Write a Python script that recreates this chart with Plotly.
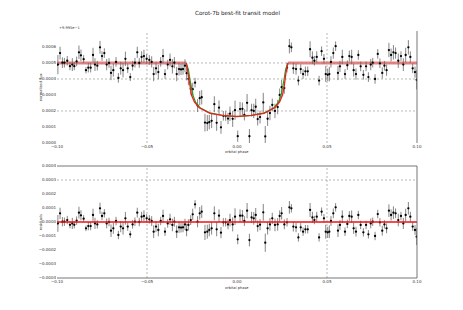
import numpy as np
import plotly.graph_objects as go

# ---------------- data (flux values in units of 1e-4, offset so baseline = 5) -------------
phase_a = [-0.0995, -0.0983, -0.0970, -0.0959, -0.0943, -0.0928, -0.0915, -0.0904, -0.0891, -0.0878,
           -0.0867, -0.0852, -0.0839, -0.0826, -0.0813, -0.0800, -0.0789, -0.0776, -0.0761, -0.0750,
           -0.0737, -0.0724, -0.0711, -0.0700, -0.0687, -0.0672, -0.0659, -0.0646, -0.0633, -0.0620,
           -0.0607, -0.0593, -0.0580, -0.0567, -0.0554, -0.0543, -0.0530, -0.0517, -0.0502, -0.0487,
           -0.0474, -0.0463, -0.0450, -0.0437, -0.0424, -0.0411, -0.0400, -0.0385, -0.0372, -0.0359,
           -0.0348]
resid_a = [-0.10, 0.62, 0.02, 0.02, 0.14, -0.20, -0.10, -0.20, 0.10, 0.67,
           0.48, 0.24, -0.45, -0.29, -0.29, 0.50, -0.10, -0.17, 0.98, 0.43,
           0.62, -0.10, 0.00, -0.62, -0.45, 0.07, -0.93, -0.33, -0.45, 0.26,
           -0.33, -0.88, -0.17, 0.02, 0.67, 0.00, 0.38, 0.43, 0.26, 0.19,
           0.07, -0.69, -0.33, -0.57, 0.07, 0.43, -0.69, -0.10, 0.19, -0.21,
           0.02]
err_a = [0.6, 0.4, 0.33, 0.3, 0.3, 0.25, 0.4, 0.25, 0.3, 0.42,
         0.36, 0.25, 0.2, 0.3, 0.3, 0.45, 0.4, 0.3, 0.4, 0.3,
         0.3, 0.35, 0.3, 0.45, 0.4, 0.3, 0.3, 0.4, 0.45, 0.45,
         0.3, 0.25, 0.3, 0.3, 0.35, 0.3, 0.35, 0.4, 0.3, 0.3,
         0.35, 0.45, 0.4, 0.45, 0.3, 0.45, 0.3, 0.3, 0.4, 0.45,
         0.35]

phase_b = [-0.0335, -0.0322, -0.0311, -0.0300, -0.0289, -0.0280, -0.0270, -0.0257, -0.0246, -0.0233,
           -0.0219, -0.0207, -0.0196, -0.0178, -0.0165, -0.0154, -0.0141, -0.0126, -0.0113, -0.0100,
           -0.0089, -0.0076, -0.0063, -0.0050, -0.0039, -0.0024, -0.0011, 0.0004, 0.0017, 0.0030,
           0.0041, 0.0056, 0.0069, 0.0081, 0.0093, 0.0104, 0.0115, 0.0128, 0.0146, 0.0157,
           0.0170, 0.0183, 0.0196, 0.0211, 0.0226, 0.0237, 0.0248, 0.0263, 0.0278, 0.0291,
           0.0302, 0.0313]
resid_b = [-0.69, -0.38, -0.40, -0.38, -0.17, -0.57, -0.21, 0.14, 0.55, 1.26,
           0.02, 0.62, 0.74, -0.74, -0.69, -0.57, -0.45, 0.62, -0.52, 0.45,
           -0.76, -0.02, -0.02, -0.17, 0.14, -0.17, 0.38, -1.24, 0.45, 0.45,
           0.07, 0.81, -1.29, 0.33, 0.26, 0.50, -0.29, -0.19, 0.69, -1.48,
           -0.45, -0.17, 0.26, -0.21, -0.17, 0.43, 0.62, -0.17, -0.02, 1.05,
           0.98, -0.33]
err_b = [0.45, 0.4, 0.35, 0.35, 0.4, 0.45, 0.4, 0.35, 0.4, 0.3,
         0.4, 0.45, 0.45, 0.55, 0.5, 0.45, 0.45, 0.5, 0.5, 0.45,
         0.4, 0.3, 0.3, 0.35, 0.45, 0.5, 0.6, 0.35, 0.45, 0.4,
         0.35, 0.55, 0.45, 0.4, 0.45, 0.5, 0.4, 0.4, 0.6, 0.65,
         0.45, 0.45, 0.4, 0.45, 0.45, 0.4, 0.45, 0.35, 0.3, 0.45,
         0.3, 0.35]

phase_c = [0.0328, 0.0341, 0.0354, 0.0367, 0.0380, 0.0393, 0.0406, 0.0419, 0.0430, 0.0443,
           0.0456, 0.0470, 0.0483, 0.0493, 0.0504, 0.0513, 0.0522, 0.0535, 0.0548, 0.0561,
           0.0572, 0.0585, 0.0600, 0.0613, 0.0624, 0.0637, 0.0648, 0.0661, 0.0674, 0.0687,
           0.0702, 0.0717, 0.0730, 0.0743, 0.0754, 0.0767, 0.0782, 0.0794, 0.0807, 0.0819,
           0.0831, 0.0844, 0.0856, 0.0869, 0.0881, 0.0896, 0.0911, 0.0924, 0.0937, 0.0952,
           0.0963, 0.0976, 0.0989, 0.0998]
resid_c = [-0.38, -1.10, -0.38, -0.69, -0.52, -0.52, 0.86, 0.33, 0.14, 0.38,
           -1.10, 0.74, 0.26, -0.69, -0.74, -0.69, 0.07, 0.62, 1.05, -0.62,
           -0.21, 0.38, -0.69, -0.14, 0.43, 0.38, -0.45, -0.69, 0.50, -0.21,
           -0.74, -0.21, -0.88, -0.10, 0.02, -1.00, 0.57, -0.02, -0.62, -0.17,
           -0.45, 0.81, 0.50, 0.67, 0.62, 0.14, 0.43, -0.10, 0.50, 0.98,
           0.38, -0.33, -0.57, -1.05]
err_c = [0.35, 0.3, 0.3, 0.3, 0.3, 0.3, 0.5, 0.4, 0.3, 0.35,
         0.3, 0.3, 0.3, 0.5, 0.4, 0.45, 0.35, 0.35, 0.3, 0.45,
         0.35, 0.45, 0.3, 0.3, 0.35, 0.45, 0.4, 0.35, 0.3, 0.3,
         0.3, 0.3, 0.3, 0.35, 0.3, 0.3, 0.3, 0.3, 0.35, 0.3,
         0.35, 0.45, 0.4, 0.45, 0.35, 0.45, 0.3, 0.4, 0.45, 0.45,
         0.35, 0.3, 0.35, 0.6]

# best-fit model (red) and alternative model (green), units of 1e-4 above 0.9995
model_phase = [-0.1000, -0.0281, -0.0272, -0.0263, -0.0253, -0.0236, -0.0210, -0.0150, -0.0080, 0.0000,
               0.0080, 0.0150, 0.0210, 0.0236, 0.0253, 0.0263, 0.0272, 0.0283, 0.1000]
model_red = [5.0, 5.0, 4.4, 3.6, 3.0, 2.55, 2.2, 1.85, 1.72, 1.66,
             1.72, 1.85, 2.2, 2.55, 3.0, 3.6, 4.4, 5.0, 5.0]
green_phase = [-0.0283, -0.0270, -0.0261, -0.0245, -0.0230, -0.0205, -0.0150, -0.0080, 0.0000,
               0.0080, 0.0150, 0.0205, 0.0230, 0.0245, 0.0261, 0.0270, 0.0283]
model_green = [5.0, 4.6, 3.95, 3.0, 2.55, 2.2, 1.88, 1.72, 1.64,
               1.72, 1.88, 2.2, 2.55, 3.0, 3.95, 4.6, 5.0]

x_ticks = [-0.10, -0.05, 0.00, 0.05, 0.10]
x_ticktext = ["\u22120.10", "\u22120.05", "0.00", "0.05", "0.10"]
top_ticks = [0.0000, 0.0001, 0.0002, 0.0003, 0.0004, 0.0005, 0.0006]
top_ticktext = ["0.0000", "0.0001", "0.0002", "0.0003", "0.0004", "0.0005", "0.0006"]
bot_ticks = [-0.0004, -0.0003, -0.0002, -0.0001, 0.0, 0.0001, 0.0002, 0.0003, 0.0004]
bot_ticktext = ["\u22120.0004", "\u22120.0003", "\u22120.0002", "\u22120.0001", "0.0000",
                "0.0001", "0.0002", "0.0003", "0.0004"]

# ---------------- derived ----------------
phase = np.array(phase_a + phase_b + phase_c)
resid = np.array(resid_a + resid_b + resid_c) * 1e-4
err = np.array(err_a + err_b + err_c) * 1e-4
mp = np.array(model_phase)
mr = np.array(model_red) * 1e-4
flux = np.interp(phase, mp, mr) + resid

fig = go.Figure()

# ---- top panel ----
band = dict(color="rgba(222,100,100,0.8)", width=2.8)
fig.add_trace(go.Scatter(x=[mp[0], mp[1]], y=[mr[0], mr[1]], mode="lines", line=band,
                         xaxis="x", yaxis="y", hoverinfo="skip"))
fig.add_trace(go.Scatter(x=[mp[-2], mp[-1]], y=[mr[-2], mr[-1]], mode="lines", line=band,
                         xaxis="x", yaxis="y", hoverinfo="skip"))
fig.add_trace(go.Scatter(x=phase, y=flux, mode="markers",
                         marker=dict(color="black", size=2.3),
                         error_y=dict(type="data", array=err, color="#666666", thickness=0.8, width=0),
                         xaxis="x", yaxis="y"))
fig.add_trace(go.Scatter(x=green_phase, y=np.array(model_green) * 1e-4, mode="lines",
                         line=dict(color="#1f9a1f", width=1.1), xaxis="x", yaxis="y"))
fig.add_trace(go.Scatter(x=mp[1:-1], y=mr[1:-1], mode="lines",
                         line=dict(color="#e8231c", width=1.3), xaxis="x", yaxis="y"))

# ---- bottom panel ----
fig.add_trace(go.Scatter(x=phase, y=resid, mode="markers",
                         marker=dict(color="black", size=2.3),
                         error_y=dict(type="data", array=err, color="#666666", thickness=0.8, width=0),
                         xaxis="x2", yaxis="y2"))
fig.add_trace(go.Scatter(x=[-0.1, 0.1], y=[0.0, 0.0], mode="lines",
                         line=dict(color="#ee1111", width=1.4), xaxis="x2", yaxis="y2"))

tickfont = dict(family="DejaVu Sans", size=4.0, color="#333")
axcommon = dict(range=[-0.1, 0.1], tickvals=x_ticks, ticktext=x_ticktext, showgrid=False,
                zeroline=False, ticks="", tickfont=tickfont, fixedrange=True, automargin=False)

grid = dict(color="#999999", width=0.7, dash="2px,2px")
shapes = []
for yv in [0.0005, 0.0004, 0.0002]:
    shapes.append(dict(type="line", xref="x domain", yref="y", x0=0, x1=1, y0=yv, y1=yv,
                       line=grid, layer="below"))
for xv in [-0.05, 0.05]:
    shapes.append(dict(type="line", xref="x", yref="y domain", x0=xv, x1=xv, y0=0, y1=1,
                       line=grid, layer="below"))
    shapes.append(dict(type="line", xref="x2", yref="y2 domain", x0=xv, x1=xv, y0=0, y1=1,
                       line=grid, layer="below"))
shapes.append(dict(type="line", xref="x2 domain", yref="y2", x0=0, x1=1, y0=0.0003, y1=0.0003,
                   line=grid, layer="below"))
# visible spines
spine = dict(color="#666666", width=0.9)
shapes.append(dict(type="line", xref="x domain", yref="y domain", x0=1, x1=1, y0=0, y1=1, line=spine))
shapes.append(dict(type="line", xref="x2 domain", yref="y2 domain", x0=1, x1=1, y0=0, y1=1, line=spine))
shapes.append(dict(type="line", xref="x2 domain", yref="y2 domain", x0=0, x1=1, y0=1, y1=1, line=spine))
shapes.append(dict(type="line", xref="x2 domain", yref="y2 domain", x0=0, x1=1, y0=0, y1=0, line=spine))

lblfont = dict(family="DejaVu Sans", size=3.6, color="#333")
annotations = [
    dict(text="Corot-7b best-fit transit model", x=0.5, y=1.0, xref="paper", yref="paper",
         yanchor="bottom", yshift=13, showarrow=False,
         font=dict(family="DejaVu Sans", size=5.6, color="#222")),
    dict(text="+9.995e\u22121", xref="x domain", yref="y domain", x=0, y=1.0, xanchor="left",
         yanchor="bottom", yshift=-1, showarrow=False, font=lblfont),
    dict(text="orbital phase", xref="x domain", yref="y domain", x=0.5, y=0, yanchor="top",
         yshift=-5, showarrow=False, font=lblfont),
    dict(text="orbital phase", xref="x2 domain", yref="y2 domain", x=0.5, y=0, yanchor="top",
         yshift=-6, showarrow=False, font=lblfont),
    dict(text="normalized flux", xref="paper", yref="y domain", x=-0.055, y=0.5, textangle=-90,
         showarrow=False, font=lblfont),
    dict(text="residuals", xref="paper", yref="y2 domain", x=-0.055, y=0.5, textangle=-90,
         showarrow=False, font=lblfont),
]

# page body adds an 8 px offset, so the figure is sized to compensate
fig.update_layout(
    width=455, height=302,
    margin=dict(l=49, r=46, t=23, b=32, autoexpand=False),
    paper_bgcolor="white", plot_bgcolor="white",
    showlegend=False,
    xaxis=dict(domain=[0, 1], anchor="y", **axcommon),
    yaxis=dict(domain=[0.5466, 1.0], anchor="x", range=[0.0, 0.0007], tickvals=top_ticks,
               ticktext=top_ticktext, showgrid=False, zeroline=False, ticks="",
               tickfont=tickfont, fixedrange=True, automargin=False),
    xaxis2=dict(domain=[0, 1], anchor="y2", **axcommon),
    yaxis2=dict(domain=[0.0, 0.4534], anchor="x2", range=[-0.0004, 0.0004], tickvals=bot_ticks,
                ticktext=bot_ticktext, showgrid=False, zeroline=False, ticks="",
                tickfont=tickfont, fixedrange=True, automargin=False),
    shapes=shapes,
    annotations=annotations,
)

fig.write_html("out.html")
